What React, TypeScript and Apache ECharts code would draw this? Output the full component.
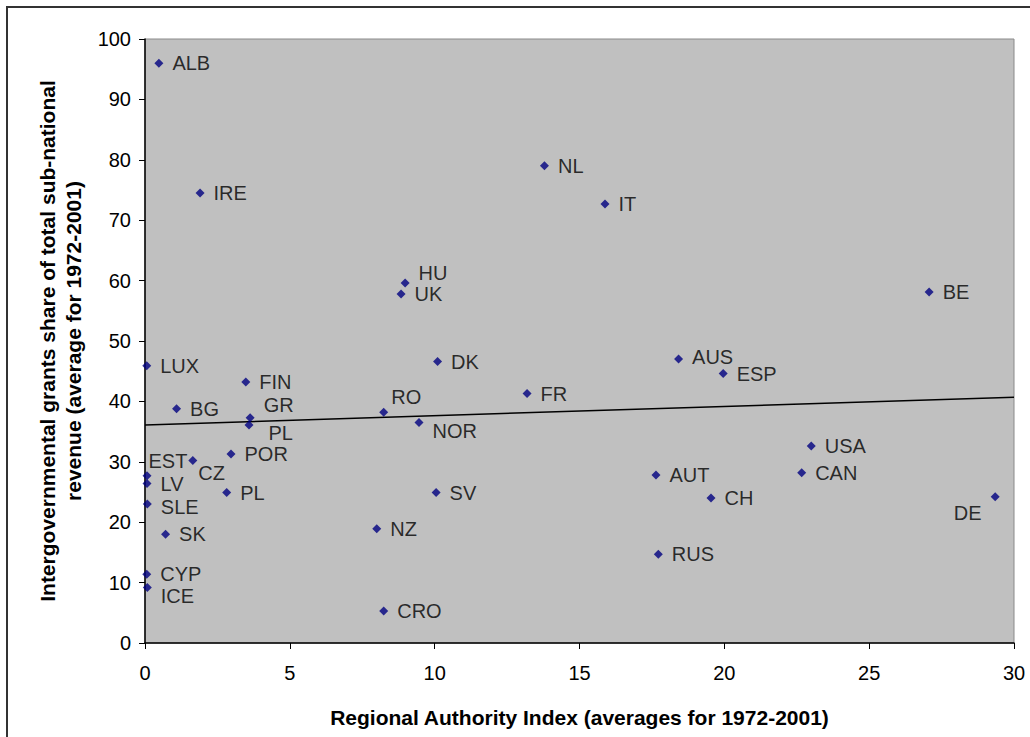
import React, { useEffect, useRef } from "react";
import * as echarts from "echarts";

const countries = ["ALB","IRE","NL","IT","HU","UK","BE","LUX","DK","AUS","ESP","FIN","FR","BG","RO","GR","PL","NOR","POR","USA","CZ","EST","LV","AUT","CAN","PL","SV","CH","DE","SLE","NZ","SK","RUS","CYP","ICE","CRO"];
const raiValues = [0.48,1.9,13.79,15.88,8.98,8.84,27.07,0.06,10.1,18.42,19.96,3.48,13.19,1.09,8.24,3.63,3.59,9.46,2.97,23.0,1.65,0.07,0.07,17.64,22.67,2.82,10.05,19.54,29.35,0.08,8.0,0.71,17.72,0.06,0.08,8.24];
const grantValues = [96.0,74.5,79.0,72.7,59.6,57.8,58.1,45.9,46.6,47.0,44.6,43.2,41.3,38.8,38.2,37.3,36.1,36.5,31.3,32.6,30.2,27.7,26.4,27.8,28.2,24.9,24.9,24.0,24.2,23.0,18.9,18.0,14.7,11.4,9.2,5.3];
const trendX = [0, 30];
const trendY = [36.1, 40.7];
const xTicks = [0, 5, 10, 15, 20, 25, 30];
const yTicks = [0, 10, 20, 30, 40, 50, 60, 70, 80, 90, 100];

const labelOffsets: Record<number, [number, number]> = {
  4: [0, -10],   // HU
  9: [0, -2],    // AUS
  14: [-6, -15], // RO
  15: [0, -13],  // GR
  16: [6, 8],    // PL
  17: [0, 8],    // NOR
  20: [-8, 12],  // CZ
  21: [-12, -15],// EST
  22: [0, 0],    // LV
  29: [0, 3],    // SLE
  34: [0, 9],    // ICE
};

export default function App() {
  const ref = useRef<HTMLDivElement>(null);
  useEffect(() => {
    if (!ref.current) return;
    const chart = echarts.init(ref.current, null, { renderer: "svg" });
    const font = "'Liberation Sans', Arial, sans-serif";
    const data = countries.map((c, i) => {
      const item: any = { name: c, value: [raiValues[i], grantValues[i]] };
      if (c === "DE") {
        item.label = { position: "left", offset: [0, 16] };
      } else if (labelOffsets[i]) {
        item.label = { offset: labelOffsets[i] };
      }
      return item;
    });
    chart.setOption({
      animation: false,
      backgroundColor: "#ffffff",
      textStyle: { fontFamily: font },
      grid: {
        left: 145, top: 39, right: 16, bottom: 94,
        show: true, backgroundColor: "#C0C0C0", borderColor: "#8a8a8a", borderWidth: 1,
      },
      graphic: [
        { type: "rect", shape: { x: 7, y: 7, width: 1100, height: 800 }, style: { fill: "none", stroke: "#333", lineWidth: 2 }, silent: true, z: -10 },
      ],
      xAxis: {
        type: "value", min: 0, max: 30, interval: 5,
        name: "Regional Authority Index (averages for 1972-2001)",
        nameLocation: "middle", nameGap: 64,
        nameTextStyle: { fontSize: 21, fontWeight: "bold", color: "#000", fontFamily: font },
        axisLine: { show: true, lineStyle: { color: "#000", width: 1.5 } },
        axisTick: { show: true, length: 6, lineStyle: { color: "#000" } },
        axisLabel: { fontSize: 20, color: "#000", margin: 20, formatter: (v: number) => (xTicks.includes(v) ? String(v) : "") },
        splitLine: { show: false },
      },
      yAxis: {
        type: "value", min: 0, max: 100, interval: 10,
        name: "Intergovernmental grants share of total sub-national\nrevenue (average for 1972-2001)",
        nameLocation: "middle", nameGap: 56, nameRotate: 90,
        nameTextStyle: { fontSize: 21, fontWeight: "bold", color: "#000", fontFamily: font, lineHeight: 26, align: "center" },
        axisLine: { show: true, lineStyle: { color: "#000", width: 1.5 } },
        axisTick: { show: true, length: 6, lineStyle: { color: "#000" } },
        axisLabel: { fontSize: 20, color: "#000", margin: 14, formatter: (v: number) => (yTicks.includes(v) ? String(v) : "") },
        splitLine: { show: false },
      },
      series: [
        {
          type: "line",
          data: trendX.map((x, i) => [x, trendY[i]]),
          showSymbol: false, symbol: "none",
          lineStyle: { color: "#000", width: 1.5 },
          z: 2, silent: true,
        },
        {
          type: "scatter",
          data,
          symbol: "diamond", symbolSize: 9,
          itemStyle: { color: "#000080" },
          label: {
            show: true, position: "right", distance: 9, lineHeight: 20,
            formatter: "{b}", fontSize: 20, color: "#000", fontFamily: font,
          },
          z: 3,
        },
      ],
    });
    return () => chart.dispose();
  }, []);
  return <div ref={ref} style={{ position: "fixed", left: 0, top: 0, width: 1030, height: 737 }} />;
}
